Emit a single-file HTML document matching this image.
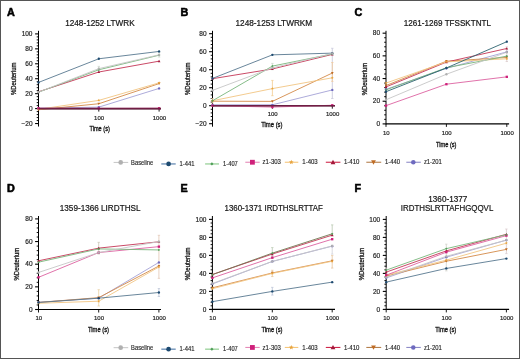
<!DOCTYPE html>
<html><head><meta charset="utf-8"><title>HDX plots</title>
<style>
html,body{margin:0;padding:0;background:#fff;}
body{width:520px;height:359px;overflow:hidden;font-family:"Liberation Sans", sans-serif;}
svg{display:block;will-change:transform;}
</style></head><body>
<svg width="520" height="359" viewBox="0 0 520 359" font-family='"Liberation Sans", sans-serif'><rect x="0" y="0" width="520" height="359" fill="#fff"/>
<text x="6.90" y="16.00" font-size="10.8" font-weight="bold" fill="#000" text-anchor="start" stroke="#000" stroke-width="0.55">A</text>
<text x="65.20" y="26.00" font-size="8.5" font-weight="normal" fill="#151515" text-anchor="start" textLength="69.50" lengthAdjust="spacingAndGlyphs" stroke="#151515" stroke-width="0.2">1248-1252 LTWRK</text>
<line x1="38.50" y1="30.80" x2="38.50" y2="126.54" stroke="#000" stroke-width="1"/>
<line x1="35.10" y1="123.54" x2="38.50" y2="123.54" stroke="#000" stroke-width="1.1"/>
<text x="32.50" y="125.79" font-size="6.5" font-weight="normal" fill="#222" text-anchor="end" stroke="#222" stroke-width="0.18">&#8722;20</text>
<line x1="36.70" y1="120.55" x2="38.50" y2="120.55" stroke="#000" stroke-width="0.95"/>
<line x1="36.70" y1="117.56" x2="38.50" y2="117.56" stroke="#000" stroke-width="0.95"/>
<line x1="36.70" y1="114.58" x2="38.50" y2="114.58" stroke="#000" stroke-width="0.95"/>
<line x1="36.70" y1="111.59" x2="38.50" y2="111.59" stroke="#000" stroke-width="0.95"/>
<line x1="35.10" y1="108.60" x2="38.50" y2="108.60" stroke="#000" stroke-width="1.1"/>
<text x="32.50" y="110.85" font-size="6.5" font-weight="normal" fill="#222" text-anchor="end" stroke="#222" stroke-width="0.18">0</text>
<line x1="36.70" y1="105.61" x2="38.50" y2="105.61" stroke="#000" stroke-width="0.95"/>
<line x1="36.70" y1="102.62" x2="38.50" y2="102.62" stroke="#000" stroke-width="0.95"/>
<line x1="36.70" y1="99.64" x2="38.50" y2="99.64" stroke="#000" stroke-width="0.95"/>
<line x1="36.70" y1="96.65" x2="38.50" y2="96.65" stroke="#000" stroke-width="0.95"/>
<line x1="35.10" y1="93.66" x2="38.50" y2="93.66" stroke="#000" stroke-width="1.1"/>
<text x="32.50" y="95.91" font-size="6.5" font-weight="normal" fill="#222" text-anchor="end" stroke="#222" stroke-width="0.18">20</text>
<line x1="36.70" y1="90.67" x2="38.50" y2="90.67" stroke="#000" stroke-width="0.95"/>
<line x1="36.70" y1="87.68" x2="38.50" y2="87.68" stroke="#000" stroke-width="0.95"/>
<line x1="36.70" y1="84.70" x2="38.50" y2="84.70" stroke="#000" stroke-width="0.95"/>
<line x1="36.70" y1="81.71" x2="38.50" y2="81.71" stroke="#000" stroke-width="0.95"/>
<line x1="35.10" y1="78.72" x2="38.50" y2="78.72" stroke="#000" stroke-width="1.1"/>
<text x="32.50" y="80.97" font-size="6.5" font-weight="normal" fill="#222" text-anchor="end" stroke="#222" stroke-width="0.18">40</text>
<line x1="36.70" y1="75.73" x2="38.50" y2="75.73" stroke="#000" stroke-width="0.95"/>
<line x1="36.70" y1="72.74" x2="38.50" y2="72.74" stroke="#000" stroke-width="0.95"/>
<line x1="36.70" y1="69.76" x2="38.50" y2="69.76" stroke="#000" stroke-width="0.95"/>
<line x1="36.70" y1="66.77" x2="38.50" y2="66.77" stroke="#000" stroke-width="0.95"/>
<line x1="35.10" y1="63.78" x2="38.50" y2="63.78" stroke="#000" stroke-width="1.1"/>
<text x="32.50" y="66.03" font-size="6.5" font-weight="normal" fill="#222" text-anchor="end" stroke="#222" stroke-width="0.18">60</text>
<line x1="36.70" y1="60.79" x2="38.50" y2="60.79" stroke="#000" stroke-width="0.95"/>
<line x1="36.70" y1="57.80" x2="38.50" y2="57.80" stroke="#000" stroke-width="0.95"/>
<line x1="36.70" y1="54.82" x2="38.50" y2="54.82" stroke="#000" stroke-width="0.95"/>
<line x1="36.70" y1="51.83" x2="38.50" y2="51.83" stroke="#000" stroke-width="0.95"/>
<line x1="35.10" y1="48.84" x2="38.50" y2="48.84" stroke="#000" stroke-width="1.1"/>
<text x="32.50" y="51.09" font-size="6.5" font-weight="normal" fill="#222" text-anchor="end" stroke="#222" stroke-width="0.18">80</text>
<line x1="36.70" y1="45.85" x2="38.50" y2="45.85" stroke="#000" stroke-width="0.95"/>
<line x1="36.70" y1="42.86" x2="38.50" y2="42.86" stroke="#000" stroke-width="0.95"/>
<line x1="36.70" y1="39.88" x2="38.50" y2="39.88" stroke="#000" stroke-width="0.95"/>
<line x1="36.70" y1="36.89" x2="38.50" y2="36.89" stroke="#000" stroke-width="0.95"/>
<line x1="35.10" y1="33.90" x2="38.50" y2="33.90" stroke="#000" stroke-width="1.1"/>
<text x="32.50" y="36.15" font-size="6.5" font-weight="normal" fill="#222" text-anchor="end" stroke="#222" stroke-width="0.18">100</text>
<line x1="38.50" y1="108.60" x2="161.00" y2="108.60" stroke="#000" stroke-width="1.1"/>
<line x1="38.50" y1="108.60" x2="38.50" y2="111.60" stroke="#000" stroke-width="0.9"/>
<line x1="98.80" y1="108.60" x2="98.80" y2="111.60" stroke="#000" stroke-width="0.9"/>
<line x1="159.10" y1="108.60" x2="159.10" y2="111.60" stroke="#000" stroke-width="0.9"/>
<text x="99.10" y="119.90" font-size="6.0" font-weight="normal" fill="#222" text-anchor="middle" stroke="#222" stroke-width="0.18">100</text>
<text x="159.40" y="119.90" font-size="6.0" font-weight="normal" fill="#222" text-anchor="middle" stroke="#222" stroke-width="0.18">1000</text>
<text x="89.50" y="130.70" font-size="8.0" font-weight="normal" fill="#111" text-anchor="start" textLength="20.30" lengthAdjust="spacingAndGlyphs" stroke="#111" stroke-width="0.35">Time (s)</text>
<g transform="translate(15.60,94.90) rotate(-90)"><text x="0.00" y="0.00" font-size="7.4" font-weight="normal" fill="#151515" text-anchor="start" textLength="32.40" lengthAdjust="spacingAndGlyphs" stroke="#151515" stroke-width="0.3">%Deuterium</text></g>
<line x1="98.80" y1="66.39" x2="98.80" y2="70.88" stroke="#c9d6c9" stroke-width="0.8"/>
<line x1="97.60" y1="70.88" x2="100.00" y2="70.88" stroke="#c9d6c9" stroke-width="0.7"/>
<line x1="97.60" y1="66.39" x2="100.00" y2="66.39" stroke="#c9d6c9" stroke-width="0.7"/>
<line x1="159.10" y1="52.57" x2="159.10" y2="57.06" stroke="#c9d6c9" stroke-width="0.8"/>
<line x1="157.90" y1="57.06" x2="160.30" y2="57.06" stroke="#c9d6c9" stroke-width="0.7"/>
<line x1="157.90" y1="52.57" x2="160.30" y2="52.57" stroke="#c9d6c9" stroke-width="0.7"/>
<polyline points="38.50,108.23 98.80,107.11 159.10,88.43" fill="none" stroke="#a4a2d6" stroke-width="0.9"/>
<polyline points="38.50,109.72 98.80,103.74 159.10,83.58" fill="none" stroke="#d48a48" stroke-width="0.9"/>
<polyline points="38.50,91.79 98.80,72.00 159.10,61.17" fill="none" stroke="#c43656" stroke-width="0.9"/>
<polyline points="38.50,109.35 98.80,100.38 159.10,82.83" fill="none" stroke="#f2c582" stroke-width="0.9"/>
<polyline points="38.50,108.23 98.80,108.38 159.10,108.23" fill="none" stroke="#dc62a0" stroke-width="0.9"/>
<polyline points="38.50,92.17 98.80,69.76 159.10,55.19" fill="none" stroke="#78b67c" stroke-width="0.9"/>
<polyline points="38.50,82.45 98.80,58.78 159.10,51.45" fill="none" stroke="#587890" stroke-width="0.9"/>
<polyline points="38.50,92.17 98.80,68.64 159.10,54.82" fill="none" stroke="#c6c6c6" stroke-width="0.9"/>
<circle cx="38.50" cy="108.23" r="1.17" fill="#6e6abf"/>
<circle cx="98.80" cy="107.11" r="1.17" fill="#6e6abf"/>
<circle cx="159.10" cy="88.43" r="1.17" fill="#6e6abf"/>
<path d="M38.50 111.07L39.85 108.64L37.15 108.64Z" fill="#c06c24"/>
<path d="M98.80 105.09L100.15 102.66L97.45 102.66Z" fill="#c06c24"/>
<path d="M159.10 84.93L160.45 82.50L157.75 82.50Z" fill="#c06c24"/>
<path d="M38.50 90.44L39.85 92.87L37.15 92.87Z" fill="#a3183a"/>
<path d="M98.80 70.65L100.15 73.08L97.45 73.08Z" fill="#a3183a"/>
<path d="M159.10 59.82L160.45 62.25L157.75 62.25Z" fill="#a3183a"/>
<path d="M38.50 107.82L38.90 108.80L39.96 108.87L39.14 109.56L39.40 110.58L38.50 110.02L37.60 110.58L37.86 109.56L37.04 108.87L38.10 108.80Z" fill="#e8a43e"/>
<path d="M98.80 98.85L99.20 99.84L100.26 99.91L99.44 100.59L99.70 101.62L98.80 101.06L97.90 101.62L98.16 100.59L97.34 99.91L98.40 99.84Z" fill="#e8a43e"/>
<path d="M159.10 81.30L159.50 82.28L160.56 82.36L159.74 83.04L160.00 84.07L159.10 83.50L158.20 84.07L158.46 83.04L157.64 82.36L158.70 82.28Z" fill="#e8a43e"/>
<rect x="37.33" y="107.06" width="2.34" height="2.34" fill="#cf207a"/>
<rect x="97.63" y="107.21" width="2.34" height="2.34" fill="#cf207a"/>
<rect x="157.93" y="107.06" width="2.34" height="2.34" fill="#cf207a"/>
<path d="M38.50 91.00L39.67 92.17L38.50 93.34L37.33 92.17Z" fill="#4f9e58"/>
<path d="M98.80 68.59L99.97 69.76L98.80 70.93L97.63 69.76Z" fill="#4f9e58"/>
<path d="M159.10 54.02L160.27 55.19L159.10 56.36L157.93 55.19Z" fill="#4f9e58"/>
<circle cx="38.50" cy="82.45" r="1.17" fill="#1d4a70"/>
<circle cx="98.80" cy="58.78" r="1.17" fill="#1d4a70"/>
<circle cx="159.10" cy="51.45" r="1.17" fill="#1d4a70"/>
<circle cx="38.50" cy="92.17" r="1.17" fill="#b0b0b0"/>
<circle cx="98.80" cy="68.64" r="1.17" fill="#b0b0b0"/>
<circle cx="159.10" cy="54.82" r="1.17" fill="#b0b0b0"/>
<line x1="38.50" y1="108.60" x2="161.00" y2="108.60" stroke="#6e1c42" stroke-width="1.6" opacity="0.95"/>
<text x="180.50" y="16.20" font-size="10.8" font-weight="bold" fill="#000" text-anchor="start" stroke="#000" stroke-width="0.55">B</text>
<text x="235.50" y="26.00" font-size="8.5" font-weight="normal" fill="#151515" text-anchor="start" textLength="76.70" lengthAdjust="spacingAndGlyphs" stroke="#151515" stroke-width="0.2">1248-1253 LTWRKM</text>
<line x1="212.50" y1="30.80" x2="212.50" y2="126.70" stroke="#000" stroke-width="1"/>
<line x1="209.10" y1="123.70" x2="212.50" y2="123.70" stroke="#000" stroke-width="1.1"/>
<text x="206.50" y="125.95" font-size="6.5" font-weight="normal" fill="#222" text-anchor="end" stroke="#222" stroke-width="0.18">&#8722;20</text>
<line x1="210.70" y1="120.10" x2="212.50" y2="120.10" stroke="#000" stroke-width="0.95"/>
<line x1="210.70" y1="116.50" x2="212.50" y2="116.50" stroke="#000" stroke-width="0.95"/>
<line x1="210.70" y1="112.90" x2="212.50" y2="112.90" stroke="#000" stroke-width="0.95"/>
<line x1="210.70" y1="109.30" x2="212.50" y2="109.30" stroke="#000" stroke-width="0.95"/>
<line x1="209.10" y1="105.70" x2="212.50" y2="105.70" stroke="#000" stroke-width="1.1"/>
<text x="206.50" y="107.95" font-size="6.5" font-weight="normal" fill="#222" text-anchor="end" stroke="#222" stroke-width="0.18">0</text>
<line x1="210.70" y1="102.10" x2="212.50" y2="102.10" stroke="#000" stroke-width="0.95"/>
<line x1="210.70" y1="98.50" x2="212.50" y2="98.50" stroke="#000" stroke-width="0.95"/>
<line x1="210.70" y1="94.90" x2="212.50" y2="94.90" stroke="#000" stroke-width="0.95"/>
<line x1="210.70" y1="91.30" x2="212.50" y2="91.30" stroke="#000" stroke-width="0.95"/>
<line x1="209.10" y1="87.70" x2="212.50" y2="87.70" stroke="#000" stroke-width="1.1"/>
<text x="206.50" y="89.95" font-size="6.5" font-weight="normal" fill="#222" text-anchor="end" stroke="#222" stroke-width="0.18">20</text>
<line x1="210.70" y1="84.10" x2="212.50" y2="84.10" stroke="#000" stroke-width="0.95"/>
<line x1="210.70" y1="80.50" x2="212.50" y2="80.50" stroke="#000" stroke-width="0.95"/>
<line x1="210.70" y1="76.90" x2="212.50" y2="76.90" stroke="#000" stroke-width="0.95"/>
<line x1="210.70" y1="73.30" x2="212.50" y2="73.30" stroke="#000" stroke-width="0.95"/>
<line x1="209.10" y1="69.70" x2="212.50" y2="69.70" stroke="#000" stroke-width="1.1"/>
<text x="206.50" y="71.95" font-size="6.5" font-weight="normal" fill="#222" text-anchor="end" stroke="#222" stroke-width="0.18">40</text>
<line x1="210.70" y1="66.10" x2="212.50" y2="66.10" stroke="#000" stroke-width="0.95"/>
<line x1="210.70" y1="62.50" x2="212.50" y2="62.50" stroke="#000" stroke-width="0.95"/>
<line x1="210.70" y1="58.90" x2="212.50" y2="58.90" stroke="#000" stroke-width="0.95"/>
<line x1="210.70" y1="55.30" x2="212.50" y2="55.30" stroke="#000" stroke-width="0.95"/>
<line x1="209.10" y1="51.70" x2="212.50" y2="51.70" stroke="#000" stroke-width="1.1"/>
<text x="206.50" y="53.95" font-size="6.5" font-weight="normal" fill="#222" text-anchor="end" stroke="#222" stroke-width="0.18">60</text>
<line x1="210.70" y1="48.10" x2="212.50" y2="48.10" stroke="#000" stroke-width="0.95"/>
<line x1="210.70" y1="44.50" x2="212.50" y2="44.50" stroke="#000" stroke-width="0.95"/>
<line x1="210.70" y1="40.90" x2="212.50" y2="40.90" stroke="#000" stroke-width="0.95"/>
<line x1="210.70" y1="37.30" x2="212.50" y2="37.30" stroke="#000" stroke-width="0.95"/>
<line x1="209.10" y1="33.70" x2="212.50" y2="33.70" stroke="#000" stroke-width="1.1"/>
<text x="206.50" y="35.95" font-size="6.5" font-weight="normal" fill="#222" text-anchor="end" stroke="#222" stroke-width="0.18">80</text>
<line x1="212.50" y1="105.70" x2="335.00" y2="105.70" stroke="#000" stroke-width="1.1"/>
<line x1="212.50" y1="105.70" x2="212.50" y2="108.70" stroke="#000" stroke-width="0.9"/>
<line x1="272.40" y1="105.70" x2="272.40" y2="108.70" stroke="#000" stroke-width="0.9"/>
<line x1="332.30" y1="105.70" x2="332.30" y2="108.70" stroke="#000" stroke-width="0.9"/>
<text x="272.70" y="116.20" font-size="6.0" font-weight="normal" fill="#222" text-anchor="middle" stroke="#222" stroke-width="0.18">100</text>
<text x="332.60" y="116.20" font-size="6.0" font-weight="normal" fill="#222" text-anchor="middle" stroke="#222" stroke-width="0.18">1000</text>
<text x="261.20" y="126.80" font-size="8.0" font-weight="normal" fill="#111" text-anchor="start" textLength="21.30" lengthAdjust="spacingAndGlyphs" stroke="#111" stroke-width="0.35">Time (s)</text>
<g transform="translate(190.30,95.00) rotate(-90)"><text x="0.00" y="0.00" font-size="7.4" font-weight="normal" fill="#151515" text-anchor="start" textLength="32.50" lengthAdjust="spacingAndGlyphs" stroke="#151515" stroke-width="0.3">%Deuterium</text></g>
<line x1="272.40" y1="80.41" x2="272.40" y2="95.71" stroke="#f2cc8e" stroke-width="0.8"/>
<line x1="271.20" y1="95.71" x2="273.60" y2="95.71" stroke="#f2cc8e" stroke-width="0.7"/>
<line x1="271.20" y1="80.41" x2="273.60" y2="80.41" stroke="#f2cc8e" stroke-width="0.7"/>
<line x1="332.30" y1="48.28" x2="332.30" y2="98.50" stroke="#c4c4d8" stroke-width="0.8"/>
<line x1="331.10" y1="98.50" x2="333.50" y2="98.50" stroke="#c4c4d8" stroke-width="0.7"/>
<line x1="331.10" y1="48.28" x2="333.50" y2="48.28" stroke="#c4c4d8" stroke-width="0.7"/>
<line x1="332.30" y1="62.50" x2="332.30" y2="81.40" stroke="#f2c99a" stroke-width="0.8"/>
<line x1="331.10" y1="81.40" x2="333.50" y2="81.40" stroke="#f2c99a" stroke-width="0.7"/>
<line x1="331.10" y1="62.50" x2="333.50" y2="62.50" stroke="#f2c99a" stroke-width="0.7"/>
<line x1="272.40" y1="63.40" x2="272.40" y2="69.70" stroke="#c9d6c9" stroke-width="0.8"/>
<line x1="271.20" y1="69.70" x2="273.60" y2="69.70" stroke="#c9d6c9" stroke-width="0.7"/>
<line x1="271.20" y1="63.40" x2="273.60" y2="63.40" stroke="#c9d6c9" stroke-width="0.7"/>
<line x1="212.50" y1="98.50" x2="212.50" y2="103.00" stroke="#e6c9a0" stroke-width="0.8"/>
<line x1="211.30" y1="103.00" x2="213.70" y2="103.00" stroke="#e6c9a0" stroke-width="0.7"/>
<line x1="211.30" y1="98.50" x2="213.70" y2="98.50" stroke="#e6c9a0" stroke-width="0.7"/>
<polyline points="212.50,104.80 272.40,104.80 332.30,89.95" fill="none" stroke="#a4a2d6" stroke-width="0.9"/>
<polyline points="212.50,101.20 272.40,101.38 332.30,73.03" fill="none" stroke="#d48a48" stroke-width="0.9"/>
<polyline points="212.50,78.70 272.40,68.98 332.30,54.40" fill="none" stroke="#c43656" stroke-width="0.9"/>
<polyline points="212.50,100.75 272.40,88.60 332.30,77.80" fill="none" stroke="#f2c582" stroke-width="0.9"/>
<polyline points="212.50,105.70 272.40,107.05 332.30,105.25" fill="none" stroke="#dc62a0" stroke-width="0.9"/>
<polyline points="212.50,100.75 272.40,66.10 332.30,53.95" fill="none" stroke="#78b67c" stroke-width="0.9"/>
<polyline points="212.50,78.43 272.40,54.85 332.30,53.14" fill="none" stroke="#587890" stroke-width="0.9"/>
<polyline points="212.50,90.40 272.40,67.90 332.30,53.50" fill="none" stroke="#c6c6c6" stroke-width="0.9"/>
<circle cx="212.50" cy="104.80" r="1.17" fill="#6e6abf"/>
<circle cx="272.40" cy="104.80" r="1.17" fill="#6e6abf"/>
<circle cx="332.30" cy="89.95" r="1.17" fill="#6e6abf"/>
<path d="M212.50 102.55L213.85 100.12L211.15 100.12Z" fill="#c06c24"/>
<path d="M272.40 102.73L273.75 100.30L271.05 100.30Z" fill="#c06c24"/>
<path d="M332.30 74.38L333.65 71.95L330.95 71.95Z" fill="#c06c24"/>
<path d="M212.50 77.35L213.85 79.78L211.15 79.78Z" fill="#a3183a"/>
<path d="M272.40 67.63L273.75 70.06L271.05 70.06Z" fill="#a3183a"/>
<path d="M332.30 53.05L333.65 55.48L330.95 55.48Z" fill="#a3183a"/>
<path d="M212.50 99.22L212.90 100.20L213.96 100.28L213.14 100.96L213.40 101.99L212.50 101.42L211.60 101.99L211.86 100.96L211.04 100.28L212.10 100.20Z" fill="#e8a43e"/>
<path d="M272.40 87.07L272.80 88.05L273.86 88.13L273.04 88.81L273.30 89.84L272.40 89.27L271.50 89.84L271.76 88.81L270.94 88.13L272.00 88.05Z" fill="#e8a43e"/>
<path d="M332.30 76.27L332.70 77.25L333.76 77.33L332.94 78.01L333.20 79.04L332.30 78.47L331.40 79.04L331.66 78.01L330.84 77.33L331.90 77.25Z" fill="#e8a43e"/>
<rect x="211.33" y="104.53" width="2.34" height="2.34" fill="#cf207a"/>
<rect x="271.23" y="105.88" width="2.34" height="2.34" fill="#cf207a"/>
<rect x="331.13" y="104.08" width="2.34" height="2.34" fill="#cf207a"/>
<path d="M212.50 99.58L213.67 100.75L212.50 101.92L211.33 100.75Z" fill="#4f9e58"/>
<path d="M272.40 64.93L273.57 66.10L272.40 67.27L271.23 66.10Z" fill="#4f9e58"/>
<path d="M332.30 52.78L333.47 53.95L332.30 55.12L331.13 53.95Z" fill="#4f9e58"/>
<circle cx="212.50" cy="78.43" r="1.17" fill="#1d4a70"/>
<circle cx="272.40" cy="54.85" r="1.17" fill="#1d4a70"/>
<circle cx="332.30" cy="53.14" r="1.17" fill="#1d4a70"/>
<circle cx="212.50" cy="90.40" r="1.17" fill="#b0b0b0"/>
<circle cx="272.40" cy="67.90" r="1.17" fill="#b0b0b0"/>
<circle cx="332.30" cy="53.50" r="1.17" fill="#b0b0b0"/>
<line x1="212.50" y1="105.70" x2="335.00" y2="105.70" stroke="#6e1c42" stroke-width="1.6" opacity="0.95"/>
<text x="354.50" y="16.00" font-size="10.8" font-weight="bold" fill="#000" text-anchor="start" stroke="#000" stroke-width="0.55">C</text>
<text x="403.80" y="26.00" font-size="8.5" font-weight="normal" fill="#151515" text-anchor="start" textLength="87.20" lengthAdjust="spacingAndGlyphs" stroke="#151515" stroke-width="0.2">1261-1269 TFSSKTNTL</text>
<line x1="386.00" y1="30.80" x2="386.00" y2="124.40" stroke="#000" stroke-width="1"/>
<line x1="382.60" y1="123.90" x2="386.00" y2="123.90" stroke="#000" stroke-width="1.1"/>
<text x="380.00" y="126.15" font-size="6.5" font-weight="normal" fill="#222" text-anchor="end" stroke="#222" stroke-width="0.18">0</text>
<line x1="384.20" y1="119.36" x2="386.00" y2="119.36" stroke="#000" stroke-width="0.95"/>
<line x1="384.20" y1="114.83" x2="386.00" y2="114.83" stroke="#000" stroke-width="0.95"/>
<line x1="384.20" y1="110.29" x2="386.00" y2="110.29" stroke="#000" stroke-width="0.95"/>
<line x1="384.20" y1="105.76" x2="386.00" y2="105.76" stroke="#000" stroke-width="0.95"/>
<line x1="382.60" y1="101.22" x2="386.00" y2="101.22" stroke="#000" stroke-width="1.1"/>
<text x="380.00" y="103.47" font-size="6.5" font-weight="normal" fill="#222" text-anchor="end" stroke="#222" stroke-width="0.18">20</text>
<line x1="384.20" y1="96.68" x2="386.00" y2="96.68" stroke="#000" stroke-width="0.95"/>
<line x1="384.20" y1="92.15" x2="386.00" y2="92.15" stroke="#000" stroke-width="0.95"/>
<line x1="384.20" y1="87.61" x2="386.00" y2="87.61" stroke="#000" stroke-width="0.95"/>
<line x1="384.20" y1="83.08" x2="386.00" y2="83.08" stroke="#000" stroke-width="0.95"/>
<line x1="382.60" y1="78.54" x2="386.00" y2="78.54" stroke="#000" stroke-width="1.1"/>
<text x="380.00" y="80.79" font-size="6.5" font-weight="normal" fill="#222" text-anchor="end" stroke="#222" stroke-width="0.18">40</text>
<line x1="384.20" y1="74.00" x2="386.00" y2="74.00" stroke="#000" stroke-width="0.95"/>
<line x1="384.20" y1="69.47" x2="386.00" y2="69.47" stroke="#000" stroke-width="0.95"/>
<line x1="384.20" y1="64.93" x2="386.00" y2="64.93" stroke="#000" stroke-width="0.95"/>
<line x1="384.20" y1="60.40" x2="386.00" y2="60.40" stroke="#000" stroke-width="0.95"/>
<line x1="382.60" y1="55.86" x2="386.00" y2="55.86" stroke="#000" stroke-width="1.1"/>
<text x="380.00" y="58.11" font-size="6.5" font-weight="normal" fill="#222" text-anchor="end" stroke="#222" stroke-width="0.18">60</text>
<line x1="384.20" y1="51.32" x2="386.00" y2="51.32" stroke="#000" stroke-width="0.95"/>
<line x1="384.20" y1="46.79" x2="386.00" y2="46.79" stroke="#000" stroke-width="0.95"/>
<line x1="384.20" y1="42.25" x2="386.00" y2="42.25" stroke="#000" stroke-width="0.95"/>
<line x1="384.20" y1="37.72" x2="386.00" y2="37.72" stroke="#000" stroke-width="0.95"/>
<line x1="382.60" y1="33.18" x2="386.00" y2="33.18" stroke="#000" stroke-width="1.1"/>
<text x="380.00" y="35.43" font-size="6.5" font-weight="normal" fill="#222" text-anchor="end" stroke="#222" stroke-width="0.18">80</text>
<line x1="386.00" y1="123.90" x2="509.10" y2="123.90" stroke="#000" stroke-width="1.1"/>
<line x1="386.00" y1="123.90" x2="386.00" y2="126.90" stroke="#000" stroke-width="0.9"/>
<line x1="446.40" y1="123.90" x2="446.40" y2="126.90" stroke="#000" stroke-width="0.9"/>
<line x1="506.80" y1="123.90" x2="506.80" y2="126.90" stroke="#000" stroke-width="0.9"/>
<text x="386.30" y="135.20" font-size="6.0" font-weight="normal" fill="#222" text-anchor="middle" stroke="#222" stroke-width="0.18">10</text>
<text x="446.70" y="135.20" font-size="6.0" font-weight="normal" fill="#222" text-anchor="middle" stroke="#222" stroke-width="0.18">100</text>
<text x="507.10" y="135.20" font-size="6.0" font-weight="normal" fill="#222" text-anchor="middle" stroke="#222" stroke-width="0.18">1000</text>
<text x="436.00" y="146.90" font-size="8.0" font-weight="normal" fill="#111" text-anchor="start" textLength="20.50" lengthAdjust="spacingAndGlyphs" stroke="#111" stroke-width="0.35">Time (s)</text>
<g transform="translate(367.20,95.20) rotate(-90)"><text x="0.00" y="0.00" font-size="7.4" font-weight="normal" fill="#151515" text-anchor="start" textLength="32.40" lengthAdjust="spacingAndGlyphs" stroke="#151515" stroke-width="0.3">%Deuterium</text></g>
<line x1="506.80" y1="46.79" x2="506.80" y2="61.53" stroke="#d8c8c8" stroke-width="0.8"/>
<line x1="505.60" y1="61.53" x2="508.00" y2="61.53" stroke="#d8c8c8" stroke-width="0.7"/>
<line x1="505.60" y1="46.79" x2="508.00" y2="46.79" stroke="#d8c8c8" stroke-width="0.7"/>
<polyline points="386.00,89.31 446.40,68.33 506.80,51.89" fill="none" stroke="#a4a2d6" stroke-width="0.9"/>
<polyline points="386.00,85.57 446.40,61.19 506.80,57.45" fill="none" stroke="#d48a48" stroke-width="0.9"/>
<polyline points="386.00,86.93 446.40,62.10 506.80,48.49" fill="none" stroke="#c43656" stroke-width="0.9"/>
<polyline points="386.00,83.08 446.40,61.87 506.80,58.81" fill="none" stroke="#f2c582" stroke-width="0.9"/>
<polyline points="386.00,105.64 446.40,84.21 506.80,76.84" fill="none" stroke="#dc62a0" stroke-width="0.9"/>
<polyline points="386.00,89.88 446.40,67.77 506.80,56.09" fill="none" stroke="#78b67c" stroke-width="0.9"/>
<polyline points="386.00,91.69 446.40,67.99 506.80,41.69" fill="none" stroke="#2e6470" stroke-width="0.9"/>
<polyline points="386.00,99.75 446.40,74.23 506.80,52.23" fill="none" stroke="#c6c6c6" stroke-width="0.9"/>
<circle cx="386.00" cy="89.31" r="1.17" fill="#6e6abf"/>
<circle cx="446.40" cy="68.33" r="1.17" fill="#6e6abf"/>
<circle cx="506.80" cy="51.89" r="1.17" fill="#6e6abf"/>
<path d="M386.00 86.92L387.35 84.49L384.65 84.49Z" fill="#c06c24"/>
<path d="M446.40 62.54L447.75 60.11L445.05 60.11Z" fill="#c06c24"/>
<path d="M506.80 58.80L508.15 56.37L505.45 56.37Z" fill="#c06c24"/>
<path d="M386.00 85.58L387.35 88.01L384.65 88.01Z" fill="#a3183a"/>
<path d="M446.40 60.75L447.75 63.18L445.05 63.18Z" fill="#a3183a"/>
<path d="M506.80 47.14L508.15 49.57L505.45 49.57Z" fill="#a3183a"/>
<path d="M386.00 81.55L386.40 82.53L387.46 82.60L386.64 83.28L386.90 84.31L386.00 83.75L385.10 84.31L385.36 83.28L384.54 82.60L385.60 82.53Z" fill="#e8a43e"/>
<path d="M446.40 60.34L446.80 61.32L447.86 61.40L447.04 62.08L447.30 63.11L446.40 62.55L445.50 63.11L445.76 62.08L444.94 61.40L446.00 61.32Z" fill="#e8a43e"/>
<path d="M506.80 57.28L507.20 58.26L508.26 58.34L507.44 59.02L507.70 60.05L506.80 59.48L505.90 60.05L506.16 59.02L505.34 58.34L506.40 58.26Z" fill="#e8a43e"/>
<rect x="384.83" y="104.47" width="2.34" height="2.34" fill="#cf207a"/>
<rect x="445.23" y="83.04" width="2.34" height="2.34" fill="#cf207a"/>
<rect x="505.63" y="75.67" width="2.34" height="2.34" fill="#cf207a"/>
<path d="M386.00 88.71L387.17 89.88L386.00 91.05L384.83 89.88Z" fill="#4f9e58"/>
<path d="M446.40 66.60L447.57 67.77L446.40 68.94L445.23 67.77Z" fill="#4f9e58"/>
<path d="M506.80 54.92L507.97 56.09L506.80 57.26L505.63 56.09Z" fill="#4f9e58"/>
<circle cx="386.00" cy="91.69" r="1.17" fill="#1d4a70"/>
<circle cx="446.40" cy="67.99" r="1.17" fill="#1d4a70"/>
<circle cx="506.80" cy="41.69" r="1.17" fill="#1d4a70"/>
<circle cx="386.00" cy="99.75" r="1.17" fill="#b0b0b0"/>
<circle cx="446.40" cy="74.23" r="1.17" fill="#b0b0b0"/>
<circle cx="506.80" cy="52.23" r="1.17" fill="#b0b0b0"/>
<text x="6.90" y="191.60" font-size="10.8" font-weight="bold" fill="#000" text-anchor="start" stroke="#000" stroke-width="0.55">D</text>
<text x="59.80" y="211.20" font-size="8.5" font-weight="normal" fill="#151515" text-anchor="start" textLength="80.70" lengthAdjust="spacingAndGlyphs" stroke="#151515" stroke-width="0.2">1359-1366 LIRDTHSL</text>
<line x1="38.50" y1="216.00" x2="38.50" y2="310.00" stroke="#000" stroke-width="1"/>
<line x1="35.10" y1="309.50" x2="38.50" y2="309.50" stroke="#000" stroke-width="1.1"/>
<text x="32.50" y="311.75" font-size="6.5" font-weight="normal" fill="#222" text-anchor="end" stroke="#222" stroke-width="0.18">0</text>
<line x1="36.70" y1="304.97" x2="38.50" y2="304.97" stroke="#000" stroke-width="0.95"/>
<line x1="36.70" y1="300.44" x2="38.50" y2="300.44" stroke="#000" stroke-width="0.95"/>
<line x1="36.70" y1="295.91" x2="38.50" y2="295.91" stroke="#000" stroke-width="0.95"/>
<line x1="36.70" y1="291.38" x2="38.50" y2="291.38" stroke="#000" stroke-width="0.95"/>
<line x1="35.10" y1="286.85" x2="38.50" y2="286.85" stroke="#000" stroke-width="1.1"/>
<text x="32.50" y="289.10" font-size="6.5" font-weight="normal" fill="#222" text-anchor="end" stroke="#222" stroke-width="0.18">20</text>
<line x1="36.70" y1="282.32" x2="38.50" y2="282.32" stroke="#000" stroke-width="0.95"/>
<line x1="36.70" y1="277.79" x2="38.50" y2="277.79" stroke="#000" stroke-width="0.95"/>
<line x1="36.70" y1="273.26" x2="38.50" y2="273.26" stroke="#000" stroke-width="0.95"/>
<line x1="36.70" y1="268.73" x2="38.50" y2="268.73" stroke="#000" stroke-width="0.95"/>
<line x1="35.10" y1="264.20" x2="38.50" y2="264.20" stroke="#000" stroke-width="1.1"/>
<text x="32.50" y="266.45" font-size="6.5" font-weight="normal" fill="#222" text-anchor="end" stroke="#222" stroke-width="0.18">40</text>
<line x1="36.70" y1="259.67" x2="38.50" y2="259.67" stroke="#000" stroke-width="0.95"/>
<line x1="36.70" y1="255.14" x2="38.50" y2="255.14" stroke="#000" stroke-width="0.95"/>
<line x1="36.70" y1="250.61" x2="38.50" y2="250.61" stroke="#000" stroke-width="0.95"/>
<line x1="36.70" y1="246.08" x2="38.50" y2="246.08" stroke="#000" stroke-width="0.95"/>
<line x1="35.10" y1="241.55" x2="38.50" y2="241.55" stroke="#000" stroke-width="1.1"/>
<text x="32.50" y="243.80" font-size="6.5" font-weight="normal" fill="#222" text-anchor="end" stroke="#222" stroke-width="0.18">60</text>
<line x1="36.70" y1="237.02" x2="38.50" y2="237.02" stroke="#000" stroke-width="0.95"/>
<line x1="36.70" y1="232.49" x2="38.50" y2="232.49" stroke="#000" stroke-width="0.95"/>
<line x1="36.70" y1="227.96" x2="38.50" y2="227.96" stroke="#000" stroke-width="0.95"/>
<line x1="36.70" y1="223.43" x2="38.50" y2="223.43" stroke="#000" stroke-width="0.95"/>
<line x1="35.10" y1="218.90" x2="38.50" y2="218.90" stroke="#000" stroke-width="1.1"/>
<text x="32.50" y="221.15" font-size="6.5" font-weight="normal" fill="#222" text-anchor="end" stroke="#222" stroke-width="0.18">80</text>
<line x1="38.50" y1="309.50" x2="161.00" y2="309.50" stroke="#000" stroke-width="1.1"/>
<line x1="38.50" y1="309.50" x2="38.50" y2="312.50" stroke="#000" stroke-width="0.9"/>
<line x1="98.70" y1="309.50" x2="98.70" y2="312.50" stroke="#000" stroke-width="0.9"/>
<line x1="158.90" y1="309.50" x2="158.90" y2="312.50" stroke="#000" stroke-width="0.9"/>
<text x="38.80" y="320.00" font-size="6.0" font-weight="normal" fill="#222" text-anchor="middle" stroke="#222" stroke-width="0.18">10</text>
<text x="99.00" y="320.00" font-size="6.0" font-weight="normal" fill="#222" text-anchor="middle" stroke="#222" stroke-width="0.18">100</text>
<text x="159.20" y="320.00" font-size="6.0" font-weight="normal" fill="#222" text-anchor="middle" stroke="#222" stroke-width="0.18">1000</text>
<text x="88.00" y="332.30" font-size="8.0" font-weight="normal" fill="#111" text-anchor="start" textLength="21.00" lengthAdjust="spacingAndGlyphs" stroke="#111" stroke-width="0.35">Time (s)</text>
<g transform="translate(19.00,280.40) rotate(-90)"><text x="0.00" y="0.00" font-size="7.4" font-weight="normal" fill="#151515" text-anchor="start" textLength="32.60" lengthAdjust="spacingAndGlyphs" stroke="#151515" stroke-width="0.3">%Deuterium</text></g>
<line x1="98.70" y1="242.34" x2="98.70" y2="254.01" stroke="#c9c3b3" stroke-width="0.8"/>
<line x1="97.50" y1="254.01" x2="99.90" y2="254.01" stroke="#c9c3b3" stroke-width="0.7"/>
<line x1="97.50" y1="242.34" x2="99.90" y2="242.34" stroke="#c9c3b3" stroke-width="0.7"/>
<line x1="98.70" y1="289.68" x2="98.70" y2="305.99" stroke="#e8cfa0" stroke-width="0.8"/>
<line x1="97.50" y1="305.99" x2="99.90" y2="305.99" stroke="#e8cfa0" stroke-width="0.7"/>
<line x1="97.50" y1="289.68" x2="99.90" y2="289.68" stroke="#e8cfa0" stroke-width="0.7"/>
<line x1="158.90" y1="235.32" x2="158.90" y2="278.36" stroke="#e2c6b4" stroke-width="0.8"/>
<line x1="157.70" y1="278.36" x2="160.10" y2="278.36" stroke="#e2c6b4" stroke-width="0.7"/>
<line x1="157.70" y1="235.32" x2="160.10" y2="235.32" stroke="#e2c6b4" stroke-width="0.7"/>
<line x1="158.90" y1="288.55" x2="158.90" y2="296.48" stroke="#b7c2d4" stroke-width="0.8"/>
<line x1="157.70" y1="296.48" x2="160.10" y2="296.48" stroke="#b7c2d4" stroke-width="0.7"/>
<line x1="157.70" y1="288.55" x2="160.10" y2="288.55" stroke="#b7c2d4" stroke-width="0.7"/>
<polyline points="38.50,302.25 98.70,298.18 158.90,262.39" fill="none" stroke="#a4a2d6" stroke-width="0.9"/>
<polyline points="38.50,302.48 98.70,297.61 158.90,266.01" fill="none" stroke="#d48a48" stroke-width="0.9"/>
<polyline points="38.50,260.80 98.70,248.12 158.90,241.78" fill="none" stroke="#c43656" stroke-width="0.9"/>
<polyline points="38.50,303.27 98.70,301.23 158.90,267.03" fill="none" stroke="#f2c582" stroke-width="0.9"/>
<polyline points="38.50,277.34 98.70,252.54 158.90,246.65" fill="none" stroke="#dc62a0" stroke-width="0.9"/>
<polyline points="38.50,262.16 98.70,248.91 158.90,249.93" fill="none" stroke="#78b67c" stroke-width="0.9"/>
<polyline points="38.50,302.48 98.70,298.18 158.90,292.51" fill="none" stroke="#587890" stroke-width="0.9"/>
<polyline points="38.50,272.47 98.70,252.54 158.90,241.55" fill="none" stroke="#c6c6c6" stroke-width="0.9"/>
<circle cx="38.50" cy="302.25" r="1.17" fill="#6e6abf"/>
<circle cx="98.70" cy="298.18" r="1.17" fill="#6e6abf"/>
<circle cx="158.90" cy="262.39" r="1.17" fill="#6e6abf"/>
<path d="M38.50 303.83L39.85 301.40L37.15 301.40Z" fill="#c06c24"/>
<path d="M98.70 298.96L100.05 296.53L97.35 296.53Z" fill="#c06c24"/>
<path d="M158.90 267.36L160.25 264.93L157.55 264.93Z" fill="#c06c24"/>
<path d="M38.50 259.45L39.85 261.88L37.15 261.88Z" fill="#a3183a"/>
<path d="M98.70 246.77L100.05 249.20L97.35 249.20Z" fill="#a3183a"/>
<path d="M158.90 240.43L160.25 242.86L157.55 242.86Z" fill="#a3183a"/>
<path d="M38.50 301.74L38.90 302.73L39.96 302.80L39.14 303.48L39.40 304.51L38.50 303.95L37.60 304.51L37.86 303.48L37.04 302.80L38.10 302.73Z" fill="#e8a43e"/>
<path d="M98.70 299.70L99.10 300.69L100.16 300.76L99.34 301.44L99.60 302.47L98.70 301.91L97.80 302.47L98.06 301.44L97.24 300.76L98.30 300.69Z" fill="#e8a43e"/>
<path d="M158.90 265.50L159.30 266.49L160.36 266.56L159.54 267.24L159.80 268.27L158.90 267.71L158.00 268.27L158.26 267.24L157.44 266.56L158.50 266.49Z" fill="#e8a43e"/>
<rect x="37.33" y="276.17" width="2.34" height="2.34" fill="#cf207a"/>
<rect x="97.53" y="251.37" width="2.34" height="2.34" fill="#cf207a"/>
<rect x="157.73" y="245.48" width="2.34" height="2.34" fill="#cf207a"/>
<path d="M38.50 260.99L39.67 262.16L38.50 263.33L37.33 262.16Z" fill="#4f9e58"/>
<path d="M98.70 247.74L99.87 248.91L98.70 250.08L97.53 248.91Z" fill="#4f9e58"/>
<path d="M158.90 248.76L160.07 249.93L158.90 251.10L157.73 249.93Z" fill="#4f9e58"/>
<circle cx="38.50" cy="302.48" r="1.17" fill="#1d4a70"/>
<circle cx="98.70" cy="298.18" r="1.17" fill="#1d4a70"/>
<circle cx="158.90" cy="292.51" r="1.17" fill="#1d4a70"/>
<circle cx="38.50" cy="272.47" r="1.17" fill="#b0b0b0"/>
<circle cx="98.70" cy="252.54" r="1.17" fill="#b0b0b0"/>
<circle cx="158.90" cy="241.55" r="1.17" fill="#b0b0b0"/>
<text x="180.50" y="191.70" font-size="10.8" font-weight="bold" fill="#000" text-anchor="start" stroke="#000" stroke-width="0.55">E</text>
<text x="224.50" y="211.20" font-size="8.5" font-weight="normal" fill="#151515" text-anchor="start" textLength="98.40" lengthAdjust="spacingAndGlyphs" stroke="#151515" stroke-width="0.2">1360-1371 IRDTHSLRTTAF</text>
<line x1="212.40" y1="216.00" x2="212.40" y2="309.90" stroke="#000" stroke-width="1"/>
<line x1="209.00" y1="309.40" x2="212.40" y2="309.40" stroke="#000" stroke-width="1.1"/>
<text x="206.40" y="311.65" font-size="6.5" font-weight="normal" fill="#222" text-anchor="end" stroke="#222" stroke-width="0.18">0</text>
<line x1="210.60" y1="305.80" x2="212.40" y2="305.80" stroke="#000" stroke-width="0.95"/>
<line x1="210.60" y1="302.20" x2="212.40" y2="302.20" stroke="#000" stroke-width="0.95"/>
<line x1="210.60" y1="298.60" x2="212.40" y2="298.60" stroke="#000" stroke-width="0.95"/>
<line x1="210.60" y1="295.00" x2="212.40" y2="295.00" stroke="#000" stroke-width="0.95"/>
<line x1="209.00" y1="291.40" x2="212.40" y2="291.40" stroke="#000" stroke-width="1.1"/>
<text x="206.40" y="293.65" font-size="6.5" font-weight="normal" fill="#222" text-anchor="end" stroke="#222" stroke-width="0.18">20</text>
<line x1="210.60" y1="287.80" x2="212.40" y2="287.80" stroke="#000" stroke-width="0.95"/>
<line x1="210.60" y1="284.20" x2="212.40" y2="284.20" stroke="#000" stroke-width="0.95"/>
<line x1="210.60" y1="280.60" x2="212.40" y2="280.60" stroke="#000" stroke-width="0.95"/>
<line x1="210.60" y1="277.00" x2="212.40" y2="277.00" stroke="#000" stroke-width="0.95"/>
<line x1="209.00" y1="273.40" x2="212.40" y2="273.40" stroke="#000" stroke-width="1.1"/>
<text x="206.40" y="275.65" font-size="6.5" font-weight="normal" fill="#222" text-anchor="end" stroke="#222" stroke-width="0.18">40</text>
<line x1="210.60" y1="269.80" x2="212.40" y2="269.80" stroke="#000" stroke-width="0.95"/>
<line x1="210.60" y1="266.20" x2="212.40" y2="266.20" stroke="#000" stroke-width="0.95"/>
<line x1="210.60" y1="262.60" x2="212.40" y2="262.60" stroke="#000" stroke-width="0.95"/>
<line x1="210.60" y1="259.00" x2="212.40" y2="259.00" stroke="#000" stroke-width="0.95"/>
<line x1="209.00" y1="255.40" x2="212.40" y2="255.40" stroke="#000" stroke-width="1.1"/>
<text x="206.40" y="257.65" font-size="6.5" font-weight="normal" fill="#222" text-anchor="end" stroke="#222" stroke-width="0.18">60</text>
<line x1="210.60" y1="251.80" x2="212.40" y2="251.80" stroke="#000" stroke-width="0.95"/>
<line x1="210.60" y1="248.20" x2="212.40" y2="248.20" stroke="#000" stroke-width="0.95"/>
<line x1="210.60" y1="244.60" x2="212.40" y2="244.60" stroke="#000" stroke-width="0.95"/>
<line x1="210.60" y1="241.00" x2="212.40" y2="241.00" stroke="#000" stroke-width="0.95"/>
<line x1="209.00" y1="237.40" x2="212.40" y2="237.40" stroke="#000" stroke-width="1.1"/>
<text x="206.40" y="239.65" font-size="6.5" font-weight="normal" fill="#222" text-anchor="end" stroke="#222" stroke-width="0.18">80</text>
<line x1="210.60" y1="233.80" x2="212.40" y2="233.80" stroke="#000" stroke-width="0.95"/>
<line x1="210.60" y1="230.20" x2="212.40" y2="230.20" stroke="#000" stroke-width="0.95"/>
<line x1="210.60" y1="226.60" x2="212.40" y2="226.60" stroke="#000" stroke-width="0.95"/>
<line x1="210.60" y1="223.00" x2="212.40" y2="223.00" stroke="#000" stroke-width="0.95"/>
<line x1="209.00" y1="219.40" x2="212.40" y2="219.40" stroke="#000" stroke-width="1.1"/>
<text x="206.40" y="221.65" font-size="6.5" font-weight="normal" fill="#222" text-anchor="end" stroke="#222" stroke-width="0.18">100</text>
<line x1="212.40" y1="309.40" x2="335.00" y2="309.40" stroke="#000" stroke-width="1.1"/>
<line x1="212.40" y1="309.40" x2="212.40" y2="312.40" stroke="#000" stroke-width="0.9"/>
<line x1="272.30" y1="309.40" x2="272.30" y2="312.40" stroke="#000" stroke-width="0.9"/>
<line x1="332.20" y1="309.40" x2="332.20" y2="312.40" stroke="#000" stroke-width="0.9"/>
<text x="212.70" y="320.00" font-size="6.0" font-weight="normal" fill="#222" text-anchor="middle" stroke="#222" stroke-width="0.18">10</text>
<text x="272.60" y="320.00" font-size="6.0" font-weight="normal" fill="#222" text-anchor="middle" stroke="#222" stroke-width="0.18">100</text>
<text x="332.50" y="320.00" font-size="6.0" font-weight="normal" fill="#222" text-anchor="middle" stroke="#222" stroke-width="0.18">1000</text>
<text x="261.50" y="332.40" font-size="8.0" font-weight="normal" fill="#111" text-anchor="start" textLength="21.00" lengthAdjust="spacingAndGlyphs" stroke="#111" stroke-width="0.35">Time (s)</text>
<g transform="translate(190.40,280.20) rotate(-90)"><text x="0.00" y="0.00" font-size="7.4" font-weight="normal" fill="#151515" text-anchor="start" textLength="32.70" lengthAdjust="spacingAndGlyphs" stroke="#151515" stroke-width="0.3">%Deuterium</text></g>
<line x1="272.30" y1="247.57" x2="272.30" y2="258.55" stroke="#b9c8b0" stroke-width="0.8"/>
<line x1="271.10" y1="258.55" x2="273.50" y2="258.55" stroke="#b9c8b0" stroke-width="0.7"/>
<line x1="271.10" y1="247.57" x2="273.50" y2="247.57" stroke="#b9c8b0" stroke-width="0.7"/>
<line x1="272.30" y1="270.25" x2="272.30" y2="276.55" stroke="#e6c49a" stroke-width="0.8"/>
<line x1="271.10" y1="276.55" x2="273.50" y2="276.55" stroke="#e6c49a" stroke-width="0.7"/>
<line x1="271.10" y1="270.25" x2="273.50" y2="270.25" stroke="#e6c49a" stroke-width="0.7"/>
<line x1="272.30" y1="287.35" x2="272.30" y2="295.09" stroke="#b7c2d4" stroke-width="0.8"/>
<line x1="271.10" y1="295.09" x2="273.50" y2="295.09" stroke="#b7c2d4" stroke-width="0.7"/>
<line x1="271.10" y1="287.35" x2="273.50" y2="287.35" stroke="#b7c2d4" stroke-width="0.7"/>
<line x1="332.20" y1="224.89" x2="332.20" y2="235.33" stroke="#b9c8b0" stroke-width="0.8"/>
<line x1="331.00" y1="235.33" x2="333.40" y2="235.33" stroke="#b9c8b0" stroke-width="0.7"/>
<line x1="331.00" y1="224.89" x2="333.40" y2="224.89" stroke="#b9c8b0" stroke-width="0.7"/>
<line x1="332.20" y1="245.14" x2="332.20" y2="254.14" stroke="#cfcfd8" stroke-width="0.8"/>
<line x1="331.00" y1="254.14" x2="333.40" y2="254.14" stroke="#cfcfd8" stroke-width="0.7"/>
<line x1="331.00" y1="245.14" x2="333.40" y2="245.14" stroke="#cfcfd8" stroke-width="0.7"/>
<line x1="332.20" y1="255.58" x2="332.20" y2="268.09" stroke="#e6c49a" stroke-width="0.8"/>
<line x1="331.00" y1="268.09" x2="333.40" y2="268.09" stroke="#e6c49a" stroke-width="0.7"/>
<line x1="331.00" y1="255.58" x2="333.40" y2="255.58" stroke="#e6c49a" stroke-width="0.7"/>
<polyline points="212.40,283.93 272.30,261.43 332.20,246.13" fill="none" stroke="#a4a2d6" stroke-width="0.9"/>
<polyline points="212.40,287.80 272.30,272.95 332.20,260.80" fill="none" stroke="#d48a48" stroke-width="0.9"/>
<polyline points="212.40,274.48 272.30,254.05 332.20,235.15" fill="none" stroke="#c43656" stroke-width="0.9"/>
<polyline points="212.40,288.70 272.30,273.40 332.20,261.25" fill="none" stroke="#f2c582" stroke-width="0.9"/>
<polyline points="212.40,277.90 272.30,257.65 332.20,239.20" fill="none" stroke="#dc62a0" stroke-width="0.9"/>
<polyline points="212.40,274.66 272.30,253.15 332.20,233.80" fill="none" stroke="#707650" stroke-width="0.9"/>
<polyline points="212.40,301.66 272.30,291.40 332.20,282.13" fill="none" stroke="#587890" stroke-width="0.9"/>
<polyline points="212.40,283.48 272.30,261.43 332.20,245.95" fill="none" stroke="#c6c6c6" stroke-width="0.9"/>
<circle cx="212.40" cy="283.93" r="1.17" fill="#6e6abf"/>
<circle cx="272.30" cy="261.43" r="1.17" fill="#6e6abf"/>
<circle cx="332.20" cy="246.13" r="1.17" fill="#6e6abf"/>
<path d="M212.40 289.15L213.75 286.72L211.05 286.72Z" fill="#c06c24"/>
<path d="M272.30 274.30L273.65 271.87L270.95 271.87Z" fill="#c06c24"/>
<path d="M332.20 262.15L333.55 259.72L330.85 259.72Z" fill="#c06c24"/>
<path d="M212.40 273.13L213.75 275.56L211.05 275.56Z" fill="#a3183a"/>
<path d="M272.30 252.70L273.65 255.13L270.95 255.13Z" fill="#a3183a"/>
<path d="M332.20 233.80L333.55 236.23L330.85 236.23Z" fill="#a3183a"/>
<path d="M212.40 287.17L212.80 288.15L213.86 288.23L213.04 288.91L213.30 289.94L212.40 289.38L211.50 289.94L211.76 288.91L210.94 288.23L212.00 288.15Z" fill="#e8a43e"/>
<path d="M272.30 271.87L272.70 272.85L273.76 272.93L272.94 273.61L273.20 274.64L272.30 274.07L271.40 274.64L271.66 273.61L270.84 272.93L271.90 272.85Z" fill="#e8a43e"/>
<path d="M332.20 259.72L332.60 260.70L333.66 260.78L332.84 261.46L333.10 262.49L332.20 261.93L331.30 262.49L331.56 261.46L330.74 260.78L331.80 260.70Z" fill="#e8a43e"/>
<rect x="211.23" y="276.73" width="2.34" height="2.34" fill="#cf207a"/>
<rect x="271.13" y="256.48" width="2.34" height="2.34" fill="#cf207a"/>
<rect x="331.03" y="238.03" width="2.34" height="2.34" fill="#cf207a"/>
<path d="M212.40 273.49L213.57 274.66L212.40 275.83L211.23 274.66Z" fill="#4f9e58"/>
<path d="M272.30 251.98L273.47 253.15L272.30 254.32L271.13 253.15Z" fill="#4f9e58"/>
<path d="M332.20 232.63L333.37 233.80L332.20 234.97L331.03 233.80Z" fill="#4f9e58"/>
<circle cx="212.40" cy="301.66" r="1.17" fill="#1d4a70"/>
<circle cx="272.30" cy="291.40" r="1.17" fill="#1d4a70"/>
<circle cx="332.20" cy="282.13" r="1.17" fill="#1d4a70"/>
<circle cx="212.40" cy="283.48" r="1.17" fill="#b0b0b0"/>
<circle cx="272.30" cy="261.43" r="1.17" fill="#b0b0b0"/>
<circle cx="332.20" cy="245.95" r="1.17" fill="#b0b0b0"/>
<text x="354.60" y="191.70" font-size="10.8" font-weight="bold" fill="#000" text-anchor="start" stroke="#000" stroke-width="0.55">F</text>
<text x="428.30" y="201.50" font-size="8.5" font-weight="normal" fill="#151515" text-anchor="start" textLength="39.00" lengthAdjust="spacingAndGlyphs" stroke="#151515" stroke-width="0.2">1360-1377</text>
<text x="400.80" y="211.10" font-size="8.5" font-weight="normal" fill="#151515" text-anchor="start" textLength="92.50" lengthAdjust="spacingAndGlyphs" stroke="#151515" stroke-width="0.2">IRDTHSLRTTAFHGQQVL</text>
<line x1="386.20" y1="216.00" x2="386.20" y2="309.90" stroke="#000" stroke-width="1"/>
<line x1="382.80" y1="309.40" x2="386.20" y2="309.40" stroke="#000" stroke-width="1.1"/>
<text x="380.20" y="311.65" font-size="6.5" font-weight="normal" fill="#222" text-anchor="end" stroke="#222" stroke-width="0.18">0</text>
<line x1="384.40" y1="305.80" x2="386.20" y2="305.80" stroke="#000" stroke-width="0.95"/>
<line x1="384.40" y1="302.20" x2="386.20" y2="302.20" stroke="#000" stroke-width="0.95"/>
<line x1="384.40" y1="298.60" x2="386.20" y2="298.60" stroke="#000" stroke-width="0.95"/>
<line x1="384.40" y1="295.00" x2="386.20" y2="295.00" stroke="#000" stroke-width="0.95"/>
<line x1="382.80" y1="291.40" x2="386.20" y2="291.40" stroke="#000" stroke-width="1.1"/>
<text x="380.20" y="293.65" font-size="6.5" font-weight="normal" fill="#222" text-anchor="end" stroke="#222" stroke-width="0.18">20</text>
<line x1="384.40" y1="287.80" x2="386.20" y2="287.80" stroke="#000" stroke-width="0.95"/>
<line x1="384.40" y1="284.20" x2="386.20" y2="284.20" stroke="#000" stroke-width="0.95"/>
<line x1="384.40" y1="280.60" x2="386.20" y2="280.60" stroke="#000" stroke-width="0.95"/>
<line x1="384.40" y1="277.00" x2="386.20" y2="277.00" stroke="#000" stroke-width="0.95"/>
<line x1="382.80" y1="273.40" x2="386.20" y2="273.40" stroke="#000" stroke-width="1.1"/>
<text x="380.20" y="275.65" font-size="6.5" font-weight="normal" fill="#222" text-anchor="end" stroke="#222" stroke-width="0.18">40</text>
<line x1="384.40" y1="269.80" x2="386.20" y2="269.80" stroke="#000" stroke-width="0.95"/>
<line x1="384.40" y1="266.20" x2="386.20" y2="266.20" stroke="#000" stroke-width="0.95"/>
<line x1="384.40" y1="262.60" x2="386.20" y2="262.60" stroke="#000" stroke-width="0.95"/>
<line x1="384.40" y1="259.00" x2="386.20" y2="259.00" stroke="#000" stroke-width="0.95"/>
<line x1="382.80" y1="255.40" x2="386.20" y2="255.40" stroke="#000" stroke-width="1.1"/>
<text x="380.20" y="257.65" font-size="6.5" font-weight="normal" fill="#222" text-anchor="end" stroke="#222" stroke-width="0.18">60</text>
<line x1="384.40" y1="251.80" x2="386.20" y2="251.80" stroke="#000" stroke-width="0.95"/>
<line x1="384.40" y1="248.20" x2="386.20" y2="248.20" stroke="#000" stroke-width="0.95"/>
<line x1="384.40" y1="244.60" x2="386.20" y2="244.60" stroke="#000" stroke-width="0.95"/>
<line x1="384.40" y1="241.00" x2="386.20" y2="241.00" stroke="#000" stroke-width="0.95"/>
<line x1="382.80" y1="237.40" x2="386.20" y2="237.40" stroke="#000" stroke-width="1.1"/>
<text x="380.20" y="239.65" font-size="6.5" font-weight="normal" fill="#222" text-anchor="end" stroke="#222" stroke-width="0.18">80</text>
<line x1="384.40" y1="233.80" x2="386.20" y2="233.80" stroke="#000" stroke-width="0.95"/>
<line x1="384.40" y1="230.20" x2="386.20" y2="230.20" stroke="#000" stroke-width="0.95"/>
<line x1="384.40" y1="226.60" x2="386.20" y2="226.60" stroke="#000" stroke-width="0.95"/>
<line x1="384.40" y1="223.00" x2="386.20" y2="223.00" stroke="#000" stroke-width="0.95"/>
<line x1="382.80" y1="219.40" x2="386.20" y2="219.40" stroke="#000" stroke-width="1.1"/>
<text x="380.20" y="221.65" font-size="6.5" font-weight="normal" fill="#222" text-anchor="end" stroke="#222" stroke-width="0.18">100</text>
<line x1="386.20" y1="309.40" x2="509.10" y2="309.40" stroke="#000" stroke-width="1.1"/>
<line x1="386.20" y1="309.40" x2="386.20" y2="312.40" stroke="#000" stroke-width="0.9"/>
<line x1="446.30" y1="309.40" x2="446.30" y2="312.40" stroke="#000" stroke-width="0.9"/>
<line x1="506.40" y1="309.40" x2="506.40" y2="312.40" stroke="#000" stroke-width="0.9"/>
<text x="386.50" y="320.00" font-size="6.0" font-weight="normal" fill="#222" text-anchor="middle" stroke="#222" stroke-width="0.18">10</text>
<text x="446.60" y="320.00" font-size="6.0" font-weight="normal" fill="#222" text-anchor="middle" stroke="#222" stroke-width="0.18">100</text>
<text x="506.70" y="320.00" font-size="6.0" font-weight="normal" fill="#222" text-anchor="middle" stroke="#222" stroke-width="0.18">1000</text>
<text x="435.30" y="332.40" font-size="8.0" font-weight="normal" fill="#111" text-anchor="start" textLength="21.00" lengthAdjust="spacingAndGlyphs" stroke="#111" stroke-width="0.35">Time (s)</text>
<g transform="translate(364.20,280.20) rotate(-90)"><text x="0.00" y="0.00" font-size="7.4" font-weight="normal" fill="#151515" text-anchor="start" textLength="32.40" lengthAdjust="spacingAndGlyphs" stroke="#151515" stroke-width="0.3">%Deuterium</text></g>
<line x1="446.30" y1="244.15" x2="446.30" y2="270.88" stroke="#d0d0c8" stroke-width="0.8"/>
<line x1="445.10" y1="270.88" x2="447.50" y2="270.88" stroke="#d0d0c8" stroke-width="0.7"/>
<line x1="445.10" y1="244.15" x2="447.50" y2="244.15" stroke="#d0d0c8" stroke-width="0.7"/>
<line x1="506.40" y1="229.03" x2="506.40" y2="253.60" stroke="#d8c8cc" stroke-width="0.8"/>
<line x1="505.20" y1="253.60" x2="507.60" y2="253.60" stroke="#d8c8cc" stroke-width="0.7"/>
<line x1="505.20" y1="229.03" x2="507.60" y2="229.03" stroke="#d8c8cc" stroke-width="0.7"/>
<line x1="386.20" y1="268.00" x2="386.20" y2="275.20" stroke="#d8c8cc" stroke-width="0.8"/>
<line x1="385.00" y1="275.20" x2="387.40" y2="275.20" stroke="#d8c8cc" stroke-width="0.7"/>
<line x1="385.00" y1="268.00" x2="387.40" y2="268.00" stroke="#d8c8cc" stroke-width="0.7"/>
<polyline points="386.20,277.90 446.30,257.20 506.40,240.10" fill="none" stroke="#a4a2d6" stroke-width="0.9"/>
<polyline points="386.20,276.10 446.30,261.25 506.40,249.37" fill="none" stroke="#d48a48" stroke-width="0.9"/>
<polyline points="386.20,272.14 446.30,250.90 506.40,234.25" fill="none" stroke="#c43656" stroke-width="0.9"/>
<polyline points="386.20,275.20 446.30,260.17 506.40,243.16" fill="none" stroke="#f2c582" stroke-width="0.9"/>
<polyline points="386.20,275.20 446.30,252.16 506.40,235.60" fill="none" stroke="#dc62a0" stroke-width="0.9"/>
<polyline points="386.20,270.16 446.30,248.65 506.40,234.70" fill="none" stroke="#78b67c" stroke-width="0.9"/>
<polyline points="386.20,282.13 446.30,268.45 506.40,258.55" fill="none" stroke="#587890" stroke-width="0.9"/>
<polyline points="386.20,277.36 446.30,256.30 506.40,240.10" fill="none" stroke="#c6c6c6" stroke-width="0.9"/>
<circle cx="386.20" cy="277.90" r="1.17" fill="#6e6abf"/>
<circle cx="446.30" cy="257.20" r="1.17" fill="#6e6abf"/>
<circle cx="506.40" cy="240.10" r="1.17" fill="#6e6abf"/>
<path d="M386.20 277.45L387.55 275.02L384.85 275.02Z" fill="#c06c24"/>
<path d="M446.30 262.60L447.65 260.17L444.95 260.17Z" fill="#c06c24"/>
<path d="M506.40 250.72L507.75 248.29L505.05 248.29Z" fill="#c06c24"/>
<path d="M386.20 270.79L387.55 273.22L384.85 273.22Z" fill="#a3183a"/>
<path d="M446.30 249.55L447.65 251.98L444.95 251.98Z" fill="#a3183a"/>
<path d="M506.40 232.90L507.75 235.33L505.05 235.33Z" fill="#a3183a"/>
<path d="M386.20 273.67L386.60 274.65L387.66 274.73L386.84 275.41L387.10 276.44L386.20 275.88L385.30 276.44L385.56 275.41L384.74 274.73L385.80 274.65Z" fill="#e8a43e"/>
<path d="M446.30 258.64L446.70 259.62L447.76 259.70L446.94 260.38L447.20 261.41L446.30 260.84L445.40 261.41L445.66 260.38L444.84 259.70L445.90 259.62Z" fill="#e8a43e"/>
<path d="M506.40 241.63L506.80 242.61L507.86 242.69L507.04 243.37L507.30 244.40L506.40 243.83L505.50 244.40L505.76 243.37L504.94 242.69L506.00 242.61Z" fill="#e8a43e"/>
<rect x="385.03" y="274.03" width="2.34" height="2.34" fill="#cf207a"/>
<rect x="445.13" y="250.99" width="2.34" height="2.34" fill="#cf207a"/>
<rect x="505.23" y="234.43" width="2.34" height="2.34" fill="#cf207a"/>
<path d="M386.20 268.99L387.37 270.16L386.20 271.33L385.03 270.16Z" fill="#4f9e58"/>
<path d="M446.30 247.48L447.47 248.65L446.30 249.82L445.13 248.65Z" fill="#4f9e58"/>
<path d="M506.40 233.53L507.57 234.70L506.40 235.87L505.23 234.70Z" fill="#4f9e58"/>
<circle cx="386.20" cy="282.13" r="1.17" fill="#1d4a70"/>
<circle cx="446.30" cy="268.45" r="1.17" fill="#1d4a70"/>
<circle cx="506.40" cy="258.55" r="1.17" fill="#1d4a70"/>
<circle cx="386.20" cy="277.36" r="1.17" fill="#b0b0b0"/>
<circle cx="446.30" cy="256.30" r="1.17" fill="#b0b0b0"/>
<circle cx="506.40" cy="240.10" r="1.17" fill="#b0b0b0"/>
<line x1="113.60" y1="162.45" x2="128.20" y2="162.45" stroke="#cacaca" stroke-width="1.1"/>
<circle cx="120.70" cy="162.45" r="2.34" fill="#b0b0b0"/>
<text x="131.10" y="164.55" font-size="6.5" font-weight="normal" fill="#262626" text-anchor="start" textLength="22.10" lengthAdjust="spacingAndGlyphs" stroke="#262626" stroke-width="0.15">Baseline</text>
<line x1="161.30" y1="163.95" x2="175.70" y2="163.95" stroke="#4b76a6" stroke-width="1.1"/>
<circle cx="168.60" cy="163.95" r="2.34" fill="#1d4a70"/>
<text x="179.50" y="166.05" font-size="6.5" font-weight="normal" fill="#262626" text-anchor="start" textLength="14.90" lengthAdjust="spacingAndGlyphs" stroke="#262626" stroke-width="0.15">1-441</text>
<line x1="205.10" y1="163.95" x2="219.00" y2="163.95" stroke="#86c986" stroke-width="1.1"/>
<path d="M211.90 162.32L213.53 163.95L211.90 165.57L210.28 163.95Z" fill="#4f9e58"/>
<text x="223.10" y="166.05" font-size="6.5" font-weight="normal" fill="#262626" text-anchor="start" textLength="14.70" lengthAdjust="spacingAndGlyphs" stroke="#262626" stroke-width="0.15">1-407</text>
<line x1="245.30" y1="162.25" x2="259.70" y2="162.25" stroke="#e58ab8" stroke-width="1.1"/>
<rect x="250.00" y="159.84" width="4.81" height="4.81" fill="#cf207a"/>
<text x="262.60" y="164.35" font-size="6.5" font-weight="normal" fill="#262626" text-anchor="start" textLength="18.30" lengthAdjust="spacingAndGlyphs" stroke="#262626" stroke-width="0.15">z1-303</text>
<line x1="284.80" y1="162.25" x2="298.30" y2="162.25" stroke="#f5c67c" stroke-width="1.1"/>
<path d="M291.30 159.78L291.94 161.37L293.64 161.49L292.33 162.59L292.75 164.24L291.30 163.34L289.85 164.24L290.27 162.59L288.96 161.49L290.66 161.37Z" fill="#e8a43e"/>
<text x="302.30" y="164.35" font-size="6.5" font-weight="normal" fill="#262626" text-anchor="start" textLength="15.40" lengthAdjust="spacingAndGlyphs" stroke="#262626" stroke-width="0.15">1-403</text>
<line x1="325.80" y1="162.25" x2="340.40" y2="162.25" stroke="#d0284c" stroke-width="1.1"/>
<path d="M333.00 159.85L335.40 164.17L330.60 164.17Z" fill="#a3183a"/>
<text x="344.00" y="164.35" font-size="6.5" font-weight="normal" fill="#262626" text-anchor="start" textLength="15.40" lengthAdjust="spacingAndGlyphs" stroke="#262626" stroke-width="0.15">1-410</text>
<line x1="366.30" y1="162.25" x2="381.20" y2="162.25" stroke="#b5804e" stroke-width="1.1"/>
<path d="M373.50 164.65L375.90 160.33L371.10 160.33Z" fill="#c06c24"/>
<text x="384.90" y="164.35" font-size="6.5" font-weight="normal" fill="#262626" text-anchor="start" textLength="15.10" lengthAdjust="spacingAndGlyphs" stroke="#262626" stroke-width="0.15">1-440</text>
<line x1="406.30" y1="162.25" x2="420.80" y2="162.25" stroke="#8f8cc8" stroke-width="1.1"/>
<circle cx="413.30" cy="162.25" r="2.27" fill="#6e6abf"/>
<text x="423.90" y="164.35" font-size="6.5" font-weight="normal" fill="#262626" text-anchor="start" textLength="18.00" lengthAdjust="spacingAndGlyphs" stroke="#262626" stroke-width="0.15">z1-201</text>
<line x1="113.60" y1="347.65" x2="128.20" y2="347.65" stroke="#cacaca" stroke-width="1.1"/>
<circle cx="120.70" cy="347.65" r="2.34" fill="#b0b0b0"/>
<text x="131.10" y="349.75" font-size="6.5" font-weight="normal" fill="#262626" text-anchor="start" textLength="22.10" lengthAdjust="spacingAndGlyphs" stroke="#262626" stroke-width="0.15">Baseline</text>
<line x1="161.30" y1="349.15" x2="175.70" y2="349.15" stroke="#4b76a6" stroke-width="1.1"/>
<circle cx="168.60" cy="349.15" r="2.34" fill="#1d4a70"/>
<text x="179.50" y="351.25" font-size="6.5" font-weight="normal" fill="#262626" text-anchor="start" textLength="14.90" lengthAdjust="spacingAndGlyphs" stroke="#262626" stroke-width="0.15">1-441</text>
<line x1="205.10" y1="349.15" x2="219.00" y2="349.15" stroke="#86c986" stroke-width="1.1"/>
<path d="M211.90 347.52L213.53 349.15L211.90 350.77L210.28 349.15Z" fill="#4f9e58"/>
<text x="223.10" y="351.25" font-size="6.5" font-weight="normal" fill="#262626" text-anchor="start" textLength="14.70" lengthAdjust="spacingAndGlyphs" stroke="#262626" stroke-width="0.15">1-407</text>
<line x1="245.30" y1="347.45" x2="259.70" y2="347.45" stroke="#e58ab8" stroke-width="1.1"/>
<rect x="250.00" y="345.05" width="4.81" height="4.81" fill="#cf207a"/>
<text x="262.60" y="349.55" font-size="6.5" font-weight="normal" fill="#262626" text-anchor="start" textLength="18.30" lengthAdjust="spacingAndGlyphs" stroke="#262626" stroke-width="0.15">z1-303</text>
<line x1="284.80" y1="347.45" x2="298.30" y2="347.45" stroke="#f5c67c" stroke-width="1.1"/>
<path d="M291.30 344.99L291.94 346.57L293.64 346.69L292.33 347.79L292.75 349.44L291.30 348.54L289.85 349.44L290.27 347.79L288.96 346.69L290.66 346.57Z" fill="#e8a43e"/>
<text x="302.30" y="349.55" font-size="6.5" font-weight="normal" fill="#262626" text-anchor="start" textLength="15.40" lengthAdjust="spacingAndGlyphs" stroke="#262626" stroke-width="0.15">1-403</text>
<line x1="325.80" y1="347.45" x2="340.40" y2="347.45" stroke="#d0284c" stroke-width="1.1"/>
<path d="M333.00 345.05L335.40 349.37L330.60 349.37Z" fill="#a3183a"/>
<text x="344.00" y="349.55" font-size="6.5" font-weight="normal" fill="#262626" text-anchor="start" textLength="15.40" lengthAdjust="spacingAndGlyphs" stroke="#262626" stroke-width="0.15">1-410</text>
<line x1="366.30" y1="347.45" x2="381.20" y2="347.45" stroke="#b5804e" stroke-width="1.1"/>
<path d="M373.50 349.85L375.90 345.53L371.10 345.53Z" fill="#c06c24"/>
<text x="384.90" y="349.55" font-size="6.5" font-weight="normal" fill="#262626" text-anchor="start" textLength="15.10" lengthAdjust="spacingAndGlyphs" stroke="#262626" stroke-width="0.15">1-440</text>
<line x1="406.30" y1="347.45" x2="420.80" y2="347.45" stroke="#8f8cc8" stroke-width="1.1"/>
<circle cx="413.30" cy="347.45" r="2.27" fill="#6e6abf"/>
<text x="423.90" y="349.55" font-size="6.5" font-weight="normal" fill="#262626" text-anchor="start" textLength="18.00" lengthAdjust="spacingAndGlyphs" stroke="#262626" stroke-width="0.15">z1-201</text>
<rect x="0.5" y="0.5" width="519" height="358" fill="none" stroke="#555" stroke-width="1"/></svg>
</body></html>
